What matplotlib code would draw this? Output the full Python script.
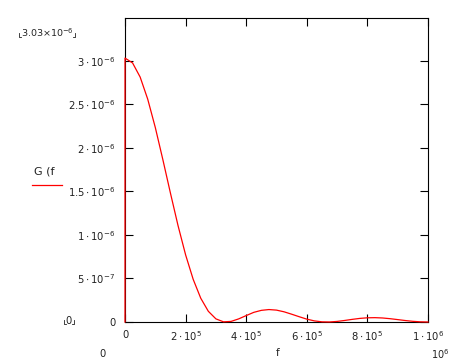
import matplotlib
matplotlib.use("Agg")
import matplotlib.pyplot as plt
from matplotlib.lines import Line2D

# G(f) (f in Hz); the trace starts at (0, 0)
f = [0, 0, 2.5e4, 5e4, 7.5e4, 1e5, 1.25e5, 1.5e5, 1.75e5, 2e5, 2.25e5,
     2.5e5, 2.75e5, 3e5, 3.25e5, 3.5e5, 3.75e5, 4e5, 4.25e5, 4.5e5, 4.75e5,
     5e5, 5.25e5, 5.5e5, 5.75e5, 6e5, 6.25e5, 6.5e5, 6.75e5, 7e5, 7.25e5,
     7.5e5, 7.75e5, 8e5, 8.25e5, 8.5e5, 8.75e5, 9e5, 9.25e5, 9.5e5, 9.75e5,
     1e6]
G = [0, 3.03e-6, 2.974e-6, 2.812e-6, 2.558e-6, 2.233e-6, 1.863e-6, 1.479e-6,
     1.107e-6, 7.71e-7, 4.90e-7, 2.73e-7, 1.23e-7, 3.6e-8, 2.0e-9, 6.8e-9,
     3.55e-8, 7.37e-8, 1.108e-7, 1.337e-7, 1.429e-7, 1.364e-7, 1.170e-7,
     8.95e-8, 6.05e-8, 3.27e-8, 1.28e-8, 2.0e-9, 5e-10, 6.6e-9, 1.77e-8,
     3.03e-8, 4.13e-8, 4.82e-8, 4.98e-8, 4.61e-8, 3.80e-8, 2.76e-8, 1.68e-8,
     7.8e-9, 2.0e-9, 0]

XTICKS = [0, 2e5, 4e5, 6e5, 8e5, 1e6]
XLABELS = ["0", r"$2\cdot10^{5}$", r"$4\cdot10^{5}$", r"$6\cdot10^{5}$",
           r"$8\cdot10^{5}$", r"$1\cdot10^{6}$"]
YTICKS = [0, 5e-7, 1e-6, 1.5e-6, 2e-6, 2.5e-6, 3e-6]
YLABELS = ["0", r"$5\cdot10^{-7}$", r"$1\cdot10^{-6}$", r"$1.5\cdot10^{-6}$",
           r"$2\cdot10^{-6}$", r"$2.5\cdot10^{-6}$", r"$3\cdot10^{-6}$"]
Y_TOP = 3.49e-6

W, H = 465, 364
TXT = "#222222"


def px(x, y):
    return x / W, 1 - y / H


def corner(x, y, left=True):
    # little Mathcad placeholder bracket
    dx = 2 if left else -2
    x0, y0 = px(x, y - 4)
    x1, y1 = px(x, y)
    x2, _ = px(x + dx, y)
    fig.add_artist(Line2D([x0, x1, x2], [y0, y1, y1], color=TXT, lw=0.6))


fig = plt.figure(figsize=(W / 100, H / 100), dpi=100)
ax = fig.add_axes([125 / W, 1 - 322 / H, (428 - 125) / W, (322 - 18) / H])

ax.plot(f, G, color="red", lw=0.9, clip_on=False, zorder=5)
ax.set_xlim(0, 1e6)
ax.set_ylim(0, Y_TOP)
ax.set_xticks(XTICKS, XLABELS)
ax.set_yticks(YTICKS, YLABELS)
ax.tick_params(direction="in", length=5.8, width=0.8, top=True, right=True,
               labelsize=7.2, labelcolor=TXT)
ax.tick_params(axis="x", pad=5.5)
ax.tick_params(axis="y", pad=7)
for s in ax.spines.values():
    s.set_linewidth(0.8)

# axis limit labels and names, Mathcad style
fig.text(*px(21, 33), r"$3.03{\times}10^{-6}$", fontsize=6.8, color=TXT,
         ha="left", va="center")
corner(19, 37, True)
corner(75, 37, False)
fig.text(*px(69, 321), "0", fontsize=7.2, color=TXT, ha="center", va="center")
corner(64, 324, True)
corner(74, 324, False)
fig.text(*px(102, 354), "0", fontsize=7.2, color=TXT, ha="center", va="center")
fig.text(*px(278, 353), "f", fontsize=7.5, color=TXT, ha="center", va="center")
fig.text(*px(440, 354), r"$10^{6}$", fontsize=7, color=TXT, ha="center", va="center")
fig.text(*px(34, 172), "G (f", fontsize=8, color=TXT, ha="left", va="center")
lx0, ly = px(32, 185)
lx1, _ = px(62, 185)
fig.add_artist(Line2D([lx0, lx1], [ly, ly], color="red", lw=0.9))

fig.savefig("out.png", dpi=100)
